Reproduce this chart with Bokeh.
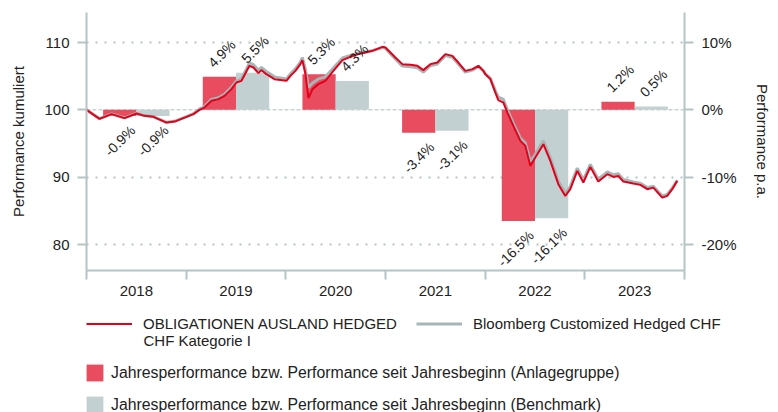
import math
from bokeh.plotting import figure
from bokeh.models import (Range1d, LinearAxis, FixedTicker, PrintfTickFormatter,
                          ColumnDataSource, Legend, LegendItem, Span, Label)
from bokeh.core.properties import value
from bokeh.embed import file_html
from bokeh.resources import INLINE

# ---------------- data ----------------
dates = [2018.000, 2018.130, 2018.251, 2018.381, 2018.502, 2018.582, 2018.672, 2018.802,
         2018.883, 2019.003, 2019.073, 2019.133, 2019.184, 2019.254, 2019.324, 2019.384,
         2019.454, 2019.504, 2019.555, 2019.635, 2019.675, 2019.725, 2019.755, 2019.805,
         2019.886, 2020.006, 2020.046, 2020.096, 2020.146, 2020.166, 2020.197, 2020.227,
         2020.267, 2020.327, 2020.397, 2020.477, 2020.568, 2020.648, 2020.728, 2020.798,
         2020.869, 2020.969, 2020.999, 2021.049, 2021.099, 2021.169, 2021.250, 2021.320,
         2021.380, 2021.450, 2021.520, 2021.601, 2021.671, 2021.731, 2021.801, 2021.872,
         2021.932, 2021.982, 2022.002, 2022.052, 2022.102, 2022.132, 2022.183, 2022.223,
         2022.283, 2022.353, 2022.403, 2022.453, 2022.503, 2022.584, 2022.654, 2022.734,
         2022.804, 2022.854, 2022.924, 2022.985, 2023.055, 2023.135, 2023.226, 2023.286,
         2023.336, 2023.386, 2023.486, 2023.557, 2023.627, 2023.687, 2023.777, 2023.827,
         2023.877, 2023.927]

fund = [100.00, 98.66, 99.36, 98.77, 99.45, 99.11, 98.96, 98.11,
        98.26, 98.96, 99.36, 100.00, 100.34, 101.34, 101.59, 102.08,
        103.08, 104.06, 104.31, 106.54, 106.29, 105.45, 105.90, 105.30,
        104.56, 104.31, 105.05, 105.79, 106.79, 107.38, 105.30, 101.74,
        103.08, 103.82, 104.31, 105.79, 107.38, 107.88, 108.28, 108.51,
        108.77, 109.36, 109.26, 108.51, 107.77, 106.79, 106.69, 106.54,
        105.90, 106.79, 107.03, 108.28, 108.02, 107.03, 105.79, 106.05,
        106.54, 105.79, 105.30, 104.56, 102.57, 101.44, 101.08, 99.60,
        97.62, 95.39, 94.65, 91.68, 92.91, 94.90, 92.42, 88.96,
        87.22, 88.22, 90.94, 89.20, 91.53, 89.35, 90.45, 90.04,
        90.19, 89.35, 89.05, 88.86, 88.22, 88.45, 86.97, 87.22,
        88.22, 89.45]

bench = [100.00, 98.70, 99.40, 98.80, 99.50, 99.15, 99.00, 98.15,
         98.30, 99.00, 99.45, 100.10, 100.50, 101.55, 101.80, 102.30,
         103.35, 104.30, 104.60, 106.95, 106.70, 105.90, 106.30, 105.70,
         104.90, 104.60, 105.35, 106.10, 107.10, 107.75, 106.00, 103.30,
         104.00, 104.60, 104.90, 106.20, 107.70, 108.10, 108.45, 108.60,
         108.80, 109.25, 109.15, 108.35, 107.55, 106.50, 106.40, 106.25,
         105.60, 106.55, 106.80, 108.05, 107.80, 106.80, 105.60, 105.90,
         106.45, 105.80, 105.35, 104.70, 102.85, 101.90, 101.55, 100.00,
         98.00, 95.80, 95.10, 92.30, 93.40, 95.40, 92.90, 89.40,
         87.60, 88.60, 91.35, 89.60, 91.90, 89.70, 90.80, 90.35,
         90.50, 89.65, 89.30, 89.10, 88.45, 88.65, 87.20, 87.45,
         88.40, 89.55]

years = [2018, 2019, 2020, 2021, 2022, 2023]
year_labels = ["2018", "2019", "2020", "2021", "2022", "2023"]
fund_ytd = [-0.9, 4.9, 5.3, -3.4, -16.5, 1.2]
bench_ytd = [-0.9, 5.5, 4.3, -3.1, -16.1, 0.5]

left_ticks = [80, 90, 100, 110]
right_ticks = [-20, -10, 0, 10]

fund_name_1 = "OBLIGATIONEN AUSLAND HEDGED"
fund_name_2 = "CHF Kategorie I"
bench_name = "Bloomberg Customized Hedged CHF"
fund_bar_name = "Jahresperformance bzw. Performance seit Jahresbeginn (Anlagegruppe)"
bench_bar_name = "Jahresperformance bzw. Performance seit Jahresbeginn (Benchmark)"

# ---------------- style ----------------
FONT = "Liberation Sans"
TXT = "#222222"
AX = "#b5c4c5"
RED_LINE = "#e2001a"
GRAY_LINE = "#a6b6b7"
RED_BAR = "#e84c5e"
GRAY_BAR = "#c3d0d1"

p = figure(width=778, height=300, x_range=Range1d(2018, 2024), y_range=Range1d(76.14, 114.46),
           output_backend="svg", toolbar_location=None,
           min_border_left=86, min_border_right=94, min_border_top=12, min_border_bottom=30,
           outline_line_color=None, background_fill_color="white")
p.extra_y_ranges = {"pct": Range1d(-23.86, 14.46)}

# grid
p.xgrid.visible = False
p.ygrid.ticker = FixedTicker(ticks=[80, 90, 110])
p.ygrid.grid_line_color = AX
p.ygrid.grid_line_width = 2
p.ygrid.grid_line_dash = "2 7"
zero = Span(location=100, dimension="width", line_color="#c9d3d4", line_width=1.5,
            line_dash="4 2", level="underlay")
p.add_layout(zero)

# bars
fund_bar_x = [y + 1/3 for y in years]
bench_bar_x = [y + 2/3 for y in years]
p.vbar(x=fund_bar_x, top=fund_ytd, bottom=0, width=1/3, fill_color=RED_BAR,
       line_color=None, y_range_name="pct")
p.vbar(x=bench_bar_x, top=bench_ytd, bottom=0, width=1/3, fill_color=GRAY_BAR,
       line_color=None, y_range_name="pct")

# lines
p.line(dates, bench, line_color=GRAY_LINE, line_width=3)
p.line(dates, fund, line_color=RED_LINE, line_width=2)

# bar labels
lx = fund_bar_x + bench_bar_x
lv = fund_ytd + bench_ytd
pos = ColumnDataSource(dict(x=[a for a, v in zip(lx, lv) if v >= 0],
                            y=[v for v in lv if v >= 0],
                            t=[f"{v:.1f}%" for v in lv if v >= 0]))
neg = ColumnDataSource(dict(x=[a for a, v in zip(lx, lv) if v < 0],
                            y=[v for v in lv if v < 0],
                            t=[f"{v:.1f}%" for v in lv if v < 0]))
common = dict(text="t", angle=math.pi / 4, text_font_size="14px", text_color=TXT,
              text_baseline="middle", y_range_name="pct", text_font=value(FONT))
p.text(x="x", y="y", source=pos, text_align="left", x_offset=-9, y_offset=-12, **common)
p.text(x="x", y="y", source=neg, text_align="right", x_offset=13, y_offset=12, **common)

# axes
xa = p.xaxis[0]
xa.ticker = FixedTicker(ticks=[y + 0.5 for y in years], minor_ticks=years + [years[-1] + 1])
xa.major_label_overrides = {y + 0.5: lab for y, lab in zip(years, year_labels)}
xa.major_tick_out = 0
xa.major_tick_in = 0
xa.major_tick_line_color = None
xa.minor_tick_in = 0
xa.minor_tick_out = 9
xa.minor_tick_line_color = AX
xa.minor_tick_line_width = 2
xa.axis_line_color = AX
xa.axis_line_width = 2
xa.major_label_standoff = 6
xa.major_label_text_font = FONT
xa.major_label_text_font_size = "15px"
xa.major_label_text_color = TXT

ya = p.yaxis[0]
ya.ticker = FixedTicker(ticks=left_ticks)
ya.axis_label = "Performance kumuliert"

ra = LinearAxis(y_range_name="pct", ticker=FixedTicker(ticks=right_ticks),
                formatter=PrintfTickFormatter(format="%d%%"), axis_label="Performance p.a.")
p.add_layout(ra, "right")

for ax in (ya, ra):
    ax.axis_line_color = AX
    ax.axis_line_width = 2
    ax.major_tick_line_color = AX
    ax.major_tick_line_width = 2
    ax.major_tick_in = 0
    ax.major_tick_out = 9
    ax.minor_tick_line_color = None
    ax.major_label_standoff = 8
    ax.major_label_text_font = FONT
    ax.major_label_text_font_size = "15px"
    ax.major_label_text_color = TXT
    ax.axis_label_text_font = FONT
    ax.axis_label_text_font_size = "15px"
    ax.axis_label_text_font_style = "normal"
    ax.axis_label_text_color = TXT
    ax.axis_label_standoff = 14

# ---------------- legend figure (series drawn off-view, used only for the legend) ----------------
q = figure(width=778, height=112, x_range=Range1d(0, 1), y_range=Range1d(0, 1),
           output_backend="svg", toolbar_location=None, min_border=0,
           outline_line_color=None)
q.axis.visible = False
q.grid.visible = False
fl = q.line(dates, fund, line_color=RED_LINE, line_width=2)
bl = q.line(dates, bench, line_color=GRAY_LINE, line_width=3)
rb = q.vbar(x=fund_bar_x, top=fund_ytd, bottom=0, width=1/3, fill_color=RED_BAR, line_color=None)
gb = q.vbar(x=bench_bar_x, top=bench_ytd, bottom=0, width=1/3, fill_color=GRAY_BAR, line_color=None)

leg_common = dict(padding=0, margin=0, border_line_color=None, background_fill_alpha=0,
                  label_text_font=FONT, label_text_color=TXT, label_height=17)
leg1 = Legend(items=[LegendItem(label=fund_name_1, renderers=[fl]),
                     LegendItem(label=bench_name, renderers=[bl])],
              orientation="horizontal", location=(86, 80), glyph_width=46, glyph_height=17,
              label_standoff=11, spacing=19, label_text_font_size="15px", **leg_common)
leg2 = Legend(items=[LegendItem(label=fund_bar_name, renderers=[rb]),
                     LegendItem(label=bench_bar_name, renderers=[gb])],
              orientation="vertical", location=(84, -3), glyph_width=21, glyph_height=21,
              label_standoff=6, spacing=11, label_text_font_size="15.8px", **leg_common)
q.add_layout(leg1, "center")
q.add_layout(leg2, "center")
q.add_layout(Label(x=143, y=72, x_units="screen", y_units="screen", text=fund_name_2,
                   text_font=FONT, text_font_size="15px", text_color=TXT,
                   text_baseline="middle", text_align="left"))

open("out.html", "w").write(file_html([p, q], INLINE))
